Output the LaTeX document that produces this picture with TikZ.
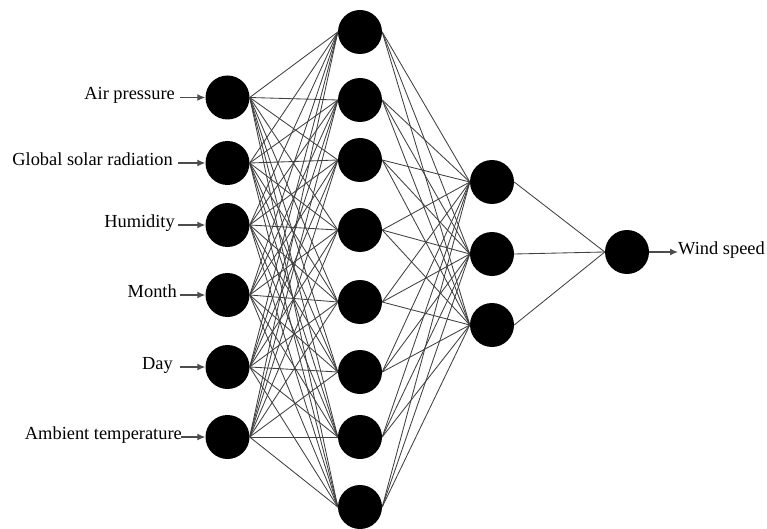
\documentclass[tikz,border=0pt]{standalone}
\usepackage{fontspec}
\setmainfont{Liberation Serif}
\usetikzlibrary{arrows.meta}
\begin{document}
\begin{tikzpicture}[x=1pt,y=-1pt,
  neuron/.style={circle,fill=black,draw=none,minimum size=44pt,inner sep=0pt},
  conn/.style={draw=black!75,line width=0.85pt},
  inarrow/.style={draw=black!70,line width=1.3pt,-{Latex[length=8pt,width=7pt]}},
  lbl/.style={font=\fontsize{18.4}{20}\selectfont,inner sep=0pt}]
\useasboundingbox (0,0) rectangle (767,529);
% input layer
\foreach \i/\y in {1/97.5,2/163,3/225,4/295,5/367,6/437}
  \node[neuron] (i\i) at (227.5,\y) {};
% hidden layer 1
\foreach \i/\y in {1/32,2/100,3/160,4/230,5/302,6/372,7/437,8/507}
  \node[neuron] (h\i) at (360,\y) {};
% hidden layer 2
\foreach \i/\y in {1/182,2/254,3/325}
  \node[neuron] (g\i) at (492,\y) {};
% output
\node[neuron] (o) at (627,252) {};
% connections
\foreach \i in {1,...,6}
  \foreach \j in {1,...,8}
    \draw[conn] (i\i.east) -- (h\j.west);
\foreach \j in {1,...,8}
  \foreach \k in {1,2,3}
    \draw[conn] (h\j.east) -- (g\k.west);
\foreach \k in {1,2,3}
  \draw[conn] (g\k.east) -- (o.west);
% input labels and arrows
\node[lbl,anchor=base east] (l1) at (175,100) {Air pressure};
\node[lbl,anchor=base east] (l2) at (173,165.5) {Global solar radiation};
\node[lbl,anchor=base east] (l3) at (175,227.5) {Humidity};
\node[lbl,anchor=base east] (l4) at (177,297.5) {Month};
\node[lbl,anchor=base east] (l5) at (173,369.5) {Day};
\node[lbl,anchor=base east] (l6) at (182,439.5) {Ambient temperature};
\coordinate (s1) at (180,97.5);
\coordinate (s2) at (178,163);
\coordinate (s3) at (178,225);
\coordinate (s4) at (180,295);
\coordinate (s5) at (180,367);
\coordinate (s6) at (181,437);
\foreach \i in {1,...,6}
  \draw[inarrow] (s\i) -- (i\i.west);
% output
\node[lbl,anchor=base west] (lo) at (678,254.5) {Wind speed};
\draw[inarrow] (o.east) -- (lo.west |- o.east);
\end{tikzpicture}
\end{document}
